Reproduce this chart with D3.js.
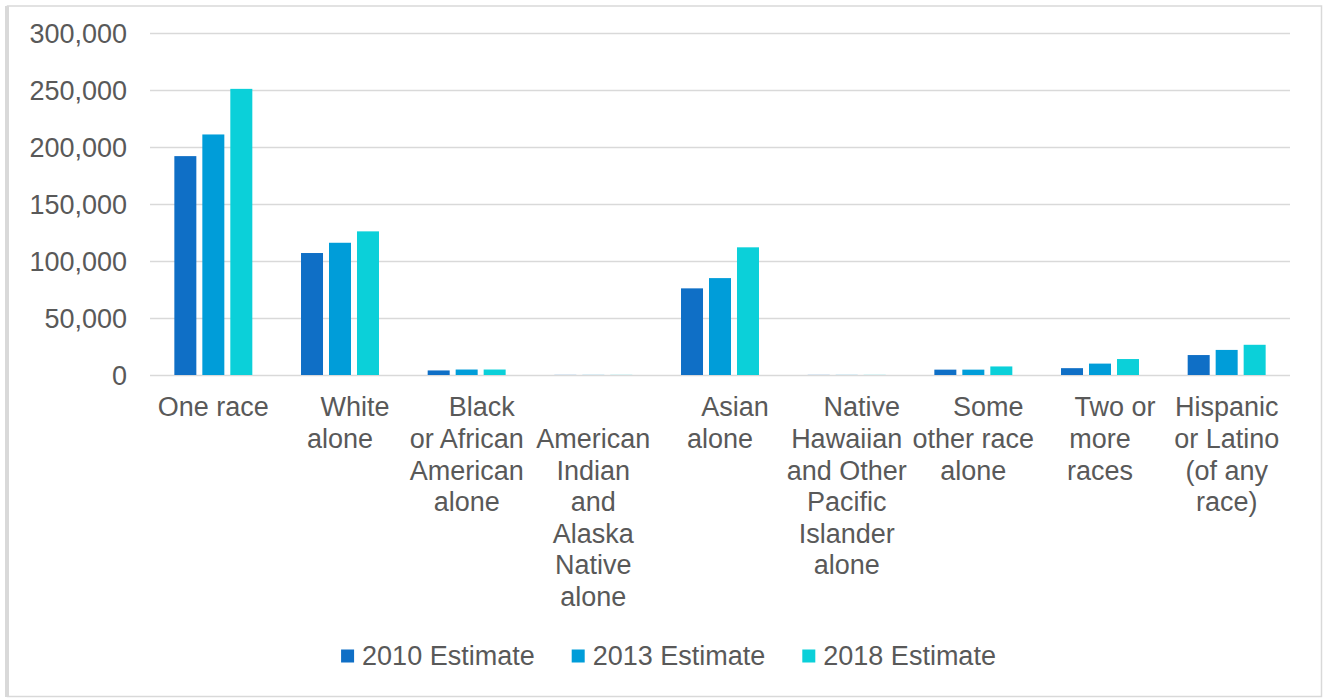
<!doctype html>
<html lang=en>
<head>
  <meta charset=utf-8>
  <title>Population by race, estimates</title>
  <style>
    html, body {
      margin: 0;
      background: #fff;
    }
    svg text {
      font-family: "Liberation Sans", Arial, sans-serif;
      font-size: 27px;
      fill: #595959;
    }
    .grid line {
      stroke: #d9d9d9;
      stroke-width: 1.5;
    }
  </style>
  <script src="https://cdn.jsdelivr.net/npm/d3@7"></script>
</head>
<body>
<svg id=chart width=1323 height=698></svg>
<script>
  // values
  const categories = [
    ['One race'],
    ['\u00a0\u00a0\u00a0\u00a0White', 'alone'],
    ['\u00a0\u00a0\u00a0\u00a0Black', 'or African', 'American', 'alone'],
    ['\u00a0', 'American', 'Indian', 'and', 'Alaska', 'Native', 'alone'],
    ['\u00a0\u00a0\u00a0\u00a0Asian', 'alone'],
    ['\u00a0\u00a0\u00a0\u00a0Native', 'Hawaiian', 'and Other', 'Pacific', 'Islander', 'alone'],
    ['\u00a0\u00a0\u00a0\u00a0Some', 'other race', 'alone'],
    ['\u00a0\u00a0\u00a0\u00a0Two or', 'more', 'races'],
    ['Hispanic', 'or Latino', '(of any', 'race)'],
  ]
  const series = ['2010 Estimate', '2013 Estimate', '2018 Estimate']
  const colors = ['#0f6fc6', '#009dd9', '#0bd0d9']
  const est2010 = [192000, 107000, 4000, 100, 76000, 100, 4700, 6000, 17500]
  const est2013 = [211000, 116000, 4800, 100, 85000, 100, 4700, 10000, 22000]
  const est2018 = [251000, 126000, 4800, 100, 112000, 100, 7500, 14000, 26500]
  const yTicks = [0, 50000, 100000, 150000, 200000, 250000, 300000]

  const values = [est2010, est2013, est2018]

  const svg = d3.select('#chart')
  const width = 1323
  const height = 698

  // chart frame
  svg.append('rect')
    .attr('x', 7.5).attr('y', 6)
    .attr('width', 1314).attr('height', 690.5)
    .attr('fill', '#fff')
    .attr('stroke', '#d9d9d9')
    .attr('stroke-width', 1.5)
  svg.append('line')
    .attr('x1', 7).attr('x2', 7)
    .attr('y1', 6).attr('y2', 697)
    .attr('stroke', '#d9d9d9')
    .attr('stroke-width', 4)

  const plotLeft = 150
  const plotRight = 1290
  const plotTop = 33
  const plotBottom = 375

  const y = d3.scaleLinear()
    .domain([0, 300000])
    .range([plotBottom, plotTop])

  const x0 = d3.scaleBand()
    .domain(d3.range(categories.length))
    .range([plotLeft, plotRight])

  const x1 = d3.scaleBand()
    .domain(series)
    .range([0, x0.bandwidth()])
    .paddingInner(0.214)
    .paddingOuter(0.87)

  // gridlines + y labels
  const gy = svg.append('g')
    .attr('class', 'grid')
    .attr('transform', 'translate(' + plotLeft + ',0)')
    .call(d3.axisLeft(y)
      .tickValues(yTicks)
      .tickSize(-(plotRight - plotLeft))
      .tickPadding(23)
      .tickFormat(d3.format(',')))
  gy.select('.domain').remove()
  gy.selectAll('text')
    .attr('dy', '0.35em')

  // bars
  const groups = svg.append('g')
    .selectAll('g')
    .data(series)
    .join('g')
      .attr('fill', (d, i) => colors[i])

  groups.selectAll('rect')
    .data((s, si) => values[si].map((v, ci) => ({ s, ci, v })))
    .join('rect')
      .attr('x', d => x0(d.ci) + x1(d.s))
      .attr('width', x1.bandwidth())
      .attr('y', d => y(d.v))
      .attr('height', d => y(0) - y(d.v))

  // category labels (wrapped like the original)
  const labels = svg.append('g')
    .attr('text-anchor', 'middle')
    .selectAll('text')
    .data(categories)
    .join('text')
      .attr('x', (d, i) => x0(i) + x0.bandwidth() / 2)
      .attr('y', plotBottom + 32)

  labels.selectAll('tspan')
    .data(d => d)
    .join('tspan')
      .attr('x', function () { return this.parentNode.getAttribute('x') })
      .attr('dy', (d, i) => i === 0 ? '0.35em' : '1.17em')
      .style('white-space', 'pre')
      .text(d => d)

  // legend
  const legend = svg.append('g')
  const items = legend.selectAll('g')
    .data(series)
    .join('g')
  items.append('rect')
    .attr('width', 13).attr('height', 13)
    .attr('y', -6.5)
    .attr('fill', (d, i) => colors[i])
  items.append('text')
    .attr('x', 21)
    .attr('dy', '0.35em')
    .text(d => d)

  let offset = 0
  items.each(function () {
    const w = this.querySelector('text').getComputedTextLength()
    d3.select(this).attr('transform', 'translate(' + offset + ',0)')
    offset += 21 + w + 37
  })
  const total = offset - 37
  legend.attr('transform', 'translate(' + (width / 2 + 7 - total / 2) + ',656)')
</script>
</body>
</html>
